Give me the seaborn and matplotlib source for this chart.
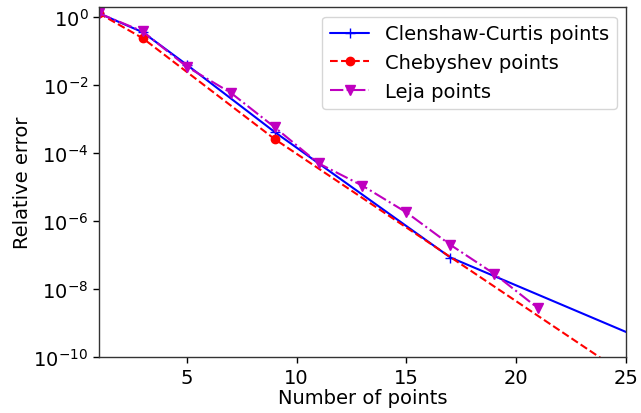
import numpy as np
import pandas as pd
import seaborn as sns
import matplotlib.pyplot as plt

# errors
cc_n = [1, 3, 5, 9, 17, 33]
cc_err = [1.3, 0.36, 0.04, 4.2e-4, 8.5e-8, 3.5e-12]

cheb_n = [1, 3, 9, 27]
cheb_err = [1.3, 0.24, 2.6e-4, 4e-12]

leja_n = [1, 3, 5, 7, 9, 11, 13, 15, 17, 19, 21]
leja_err = [1.3, 0.38, 0.035, 6e-3, 5.8e-4, 5.0e-5, 1.1e-5, 1.8e-6, 2.0e-7, 2.8e-8, 2.7e-9]

sns.set_style("white")
plt.rcParams['font.family'] = ['DejaVu Sans']
plt.rcParams['text.color'] = 'black'
plt.rcParams['axes.labelcolor'] = 'black'
plt.rcParams['xtick.color'] = 'black'
plt.rcParams['ytick.color'] = 'black'

fig = plt.figure(figsize=(6.41, 4.14), dpi=100)
ax = fig.add_axes([0.154, 0.135, 0.823, 0.846])

df_cc = pd.DataFrame({"n": cc_n, "err": cc_err})
df_cheb = pd.DataFrame({"n": cheb_n, "err": cheb_err})
df_leja = pd.DataFrame({"n": leja_n, "err": leja_err})

ax.semilogy(df_cc.n, df_cc.err, 'b-', marker='+', markersize=7, label='Clenshaw-Curtis points')
ax.semilogy(df_cheb.n, df_cheb.err, 'r--', marker='o', markersize=6, label='Chebyshev points')
ax.semilogy(df_leja.n, df_leja.err, 'm-.', marker='v', markersize=6.5, label='Leja points')

ax.set_xlim(1, 25)
ax.set_ylim(1e-10, 2)
ax.set_yticks([1e0, 1e-2, 1e-4, 1e-6, 1e-8, 1e-10])
ax.minorticks_off()
ax.set_xticks([5, 10, 15, 20, 25])
ax.tick_params(axis='both', labelsize=14, length=4, width=1, direction='out',
               bottom=True, left=True)
ax.set_xlabel('Number of points', fontsize=14, labelpad=1)
ax.set_ylabel('Relative error', fontsize=14, labelpad=1)
for s in ax.spines.values():
    s.set_color('#333333')
    s.set_linewidth(1)
leg = ax.legend(loc='upper right', fontsize=14, frameon=True)
for t in leg.get_texts():
    t.set_color('black')

fig.savefig('out.png', dpi=100)
